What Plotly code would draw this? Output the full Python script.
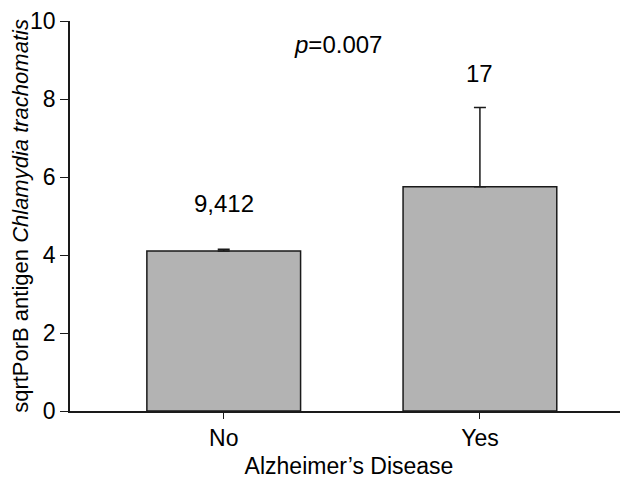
import plotly.graph_objects as go

categories = ["No", "Yes"]
means = [4.10, 5.75]
errors = [0.05, 2.03]
counts = ["9,412", "17"]
count_y = [5.32, 8.65]
p_text = "<i>p</i>=0.007"

FONT = "Liberation Sans, Arial, sans-serif"

fig = go.Figure()
fig.add_trace(go.Bar(
    x=[0, 1], y=means, width=0.6,
    marker=dict(color="#b3b3b3", line=dict(color="#1a1a1a", width=1.5)),
    error_y=dict(type="data", array=errors, symmetric=False, arrayminus=[0, 0],
                 color="#1a1a1a", thickness=1.5, width=6),
))

for i, (c, yy) in enumerate(zip(counts, count_y)):
    fig.add_annotation(x=i, y=yy, text=c, showarrow=False,
                       font=dict(size=24, color="black", family=FONT))
fig.add_annotation(x=0.445, y=9.41, text=p_text, showarrow=False,
                   font=dict(size=24, color="black", family=FONT))

fig.update_layout(
    width=620, height=471,
    margin=dict(l=62, r=0, t=10, b=68),
    paper_bgcolor="white", plot_bgcolor="white",
    showlegend=False,
    font=dict(family=FONT, color="black", size=23),
    bargap=0.4,
)
fig.update_xaxes(
    range=[-0.6, 1.578], tickvals=[0, 1], ticktext=categories,
    showline=True, linecolor="#1a1a1a", linewidth=1.5,
    ticks="outside", ticklen=6, tickcolor="#1a1a1a",
    showgrid=False, zeroline=False,
    tickfont=dict(size=23),
    title=dict(text="Alzheimer\u2019s Disease", font=dict(size=23), standoff=8),
)
fig.update_yaxes(
    range=[0, 10], tickvals=[0, 2, 4, 6, 8, 10],
    showline=True, linecolor="#1a1a1a", linewidth=1.5,
    ticks="outside", ticklen=8, tickcolor="#1a1a1a",
    ticklabeloverflow="allow",
    showgrid=False, zeroline=False,
    tickfont=dict(size=23),
    title=dict(text="sqrtPorB antigen <i>Chlamydia trachomatis</i>", font=dict(size=22), standoff=4),
)

fig.write_html("out.html")
